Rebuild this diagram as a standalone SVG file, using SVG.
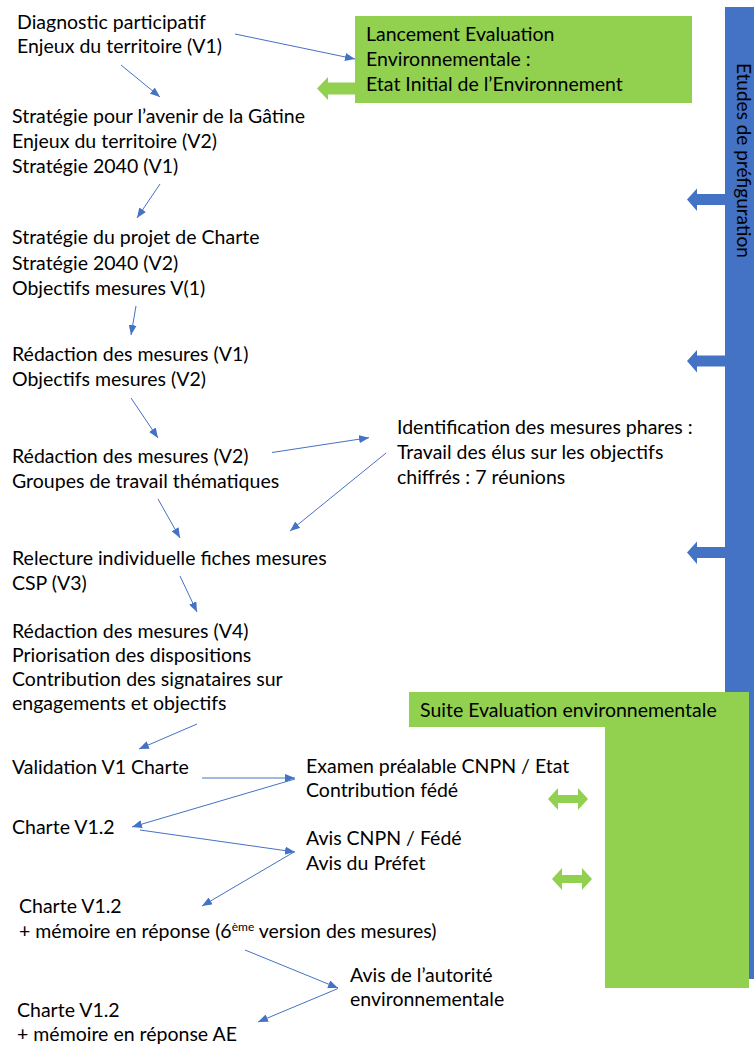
<svg xmlns="http://www.w3.org/2000/svg" width="754" height="1044" viewBox="0 0 754 1044">
<style>
text{font-family:Lato,"Open Sans","Liberation Sans",sans-serif;font-size:19.5px;fill:#000}
.c{stroke:#4472C4;stroke-width:1;fill:none}
.g{fill:#92D050}
.b{fill:#4472C4}
</style>
<defs>
<marker id="ah" viewBox="0 0 10 8" refX="10" refY="4" markerWidth="10" markerHeight="8" markerUnits="userSpaceOnUse" orient="auto"><path d="M0,0 L10,4 L0,8 Z" fill="#4472C4"/></marker>
</defs>
<rect width="754" height="1044" fill="#fff"/>

<g id="etudes">
<rect class="b" x="725" y="7" width="30" height="972"/>
<text transform="translate(737,63) rotate(90)" style="font-size:19px">Etudes de préfiguration</text>
<path class="b" d="M725,194 H697 V188.5 L687,199.5 L697,211 V205 H725 Z"/>
<path class="b" d="M725,355.5 H697 V350 L687,361 L697,372.5 V366.5 H725 Z"/>
<path class="b" d="M725,547 H697 V541.5 L687,552.5 L697,564 V558 H725 Z"/>
</g>

<g id="suite">
<path class="g" d="M409,692 H749 V988 H605 V727 H409 Z"/>
<text x="420" y="717">Suite Evaluation environnementale</text>
<path class="g" d="M548,799 L558,788 V795 H578 V788 L588,799 L578,810 V803 H558 V810 Z"/>
<path class="g" d="M552,879 L562,868 V875 H582 V868 L592,879 L582,890 V883 H562 V890 Z"/>
</g>

<g id="lancement">
<rect class="g" x="355" y="16" width="337" height="87"/>
<text x="366" y="41">Lancement Evaluation</text>
<text x="366" y="66">Environnementale :</text>
<text x="366" y="91">Etat Initial de l’Environnement</text>
<path class="g" d="M356,82.5 H328 V77 L317,88.5 L328,100 V94.5 H356 Z"/>
</g>

<g id="n1"><text x="17" y="29">Diagnostic participatif</text><text x="17" y="53">Enjeux du territoire (V1)</text></g>
<g id="n2"><text x="12" y="123">Stratégie pour l’avenir de la Gâtine</text><text x="12" y="148">Enjeux du territoire (V2)</text><text x="12" y="173">Stratégie 2040 (V1)</text></g>
<g id="n3"><text x="12" y="244">Stratégie du projet de Charte</text><text x="12" y="270">Stratégie 2040 (V2)</text><text x="12" y="295">Objectifs mesures V(1)</text></g>
<g id="n4"><text x="12" y="361">Rédaction des mesures (V1)</text><text x="12" y="386">Objectifs mesures (V2)</text></g>
<g id="n5"><text x="12" y="463">Rédaction des mesures (V2)</text><text x="12" y="488">Groupes de travail thématiques</text></g>
<g id="n6"><text x="397" y="434">Identification des mesures phares :</text><text x="397" y="459">Travail des élus sur les objectifs</text><text x="397" y="484">chiffrés : 7 réunions</text></g>
<g id="n7"><text x="12" y="565">Relecture individuelle fiches mesures</text><text x="12" y="590">CSP (V3)</text></g>
<g id="n8"><text x="12" y="638">Rédaction des mesures (V4)</text><text x="12" y="662">Priorisation des dispositions</text><text x="12" y="686">Contribution des signataires sur</text><text x="12" y="710">engagements et objectifs</text></g>
<g id="n9"><text x="12" y="774">Validation V1 Charte</text></g>
<g id="n10"><text x="306" y="773">Examen préalable CNPN / Etat</text><text x="306" y="797">Contribution fédé</text></g>
<g id="n11"><text x="12" y="834">Charte V1.2</text></g>
<g id="n12"><text x="306" y="845">Avis CNPN / Fédé</text><text x="306" y="870">Avis du Préfet</text></g>
<g id="n13"><text x="19" y="913">Charte V1.2</text><text x="19" y="938">+ mémoire en réponse (6<tspan font-size="12" dy="-7">ème</tspan><tspan dy="7"> version des mesures)</tspan></text></g>
<g id="n14"><text x="350" y="982">Avis de l’autorité</text><text x="350" y="1006">environnementale</text></g>
<g id="n15"><text x="17" y="1017">Charte V1.2</text><text x="17" y="1041">+ mémoire en réponse AE</text></g>

<g id="connectors">
<line class="c" x1="235" y1="34" x2="355" y2="59" marker-end="url(#ah)"/>
<line class="c" x1="121" y1="65" x2="160" y2="97" marker-end="url(#ah)"/>
<line class="c" x1="160" y1="184" x2="137" y2="218" marker-end="url(#ah)"/>
<line class="c" x1="136" y1="306" x2="131" y2="335" marker-end="url(#ah)"/>
<line class="c" x1="131" y1="398" x2="158" y2="438" marker-end="url(#ah)"/>
<line class="c" x1="272" y1="452.5" x2="369" y2="437.7" marker-end="url(#ah)"/>
<line class="c" x1="386" y1="453" x2="290" y2="531" marker-end="url(#ah)"/>
<line class="c" x1="158" y1="499" x2="180" y2="538" marker-end="url(#ah)"/>
<line class="c" x1="180" y1="576" x2="197" y2="612" marker-end="url(#ah)"/>
<line class="c" x1="197" y1="724" x2="139" y2="749" marker-end="url(#ah)"/>
<line class="c" x1="202" y1="778" x2="295" y2="778" marker-end="url(#ah)"/>
<line class="c" x1="295" y1="779" x2="132" y2="827" marker-end="url(#ah)"/>
<line class="c" x1="140" y1="830" x2="295" y2="852" marker-end="url(#ah)"/>
<line class="c" x1="294" y1="852" x2="202" y2="906" marker-end="url(#ah)"/>
<line class="c" x1="245" y1="950" x2="338" y2="988" marker-end="url(#ah)"/>
<line class="c" x1="338" y1="988.5" x2="258" y2="1022" marker-end="url(#ah)"/>
</g>
</svg>
